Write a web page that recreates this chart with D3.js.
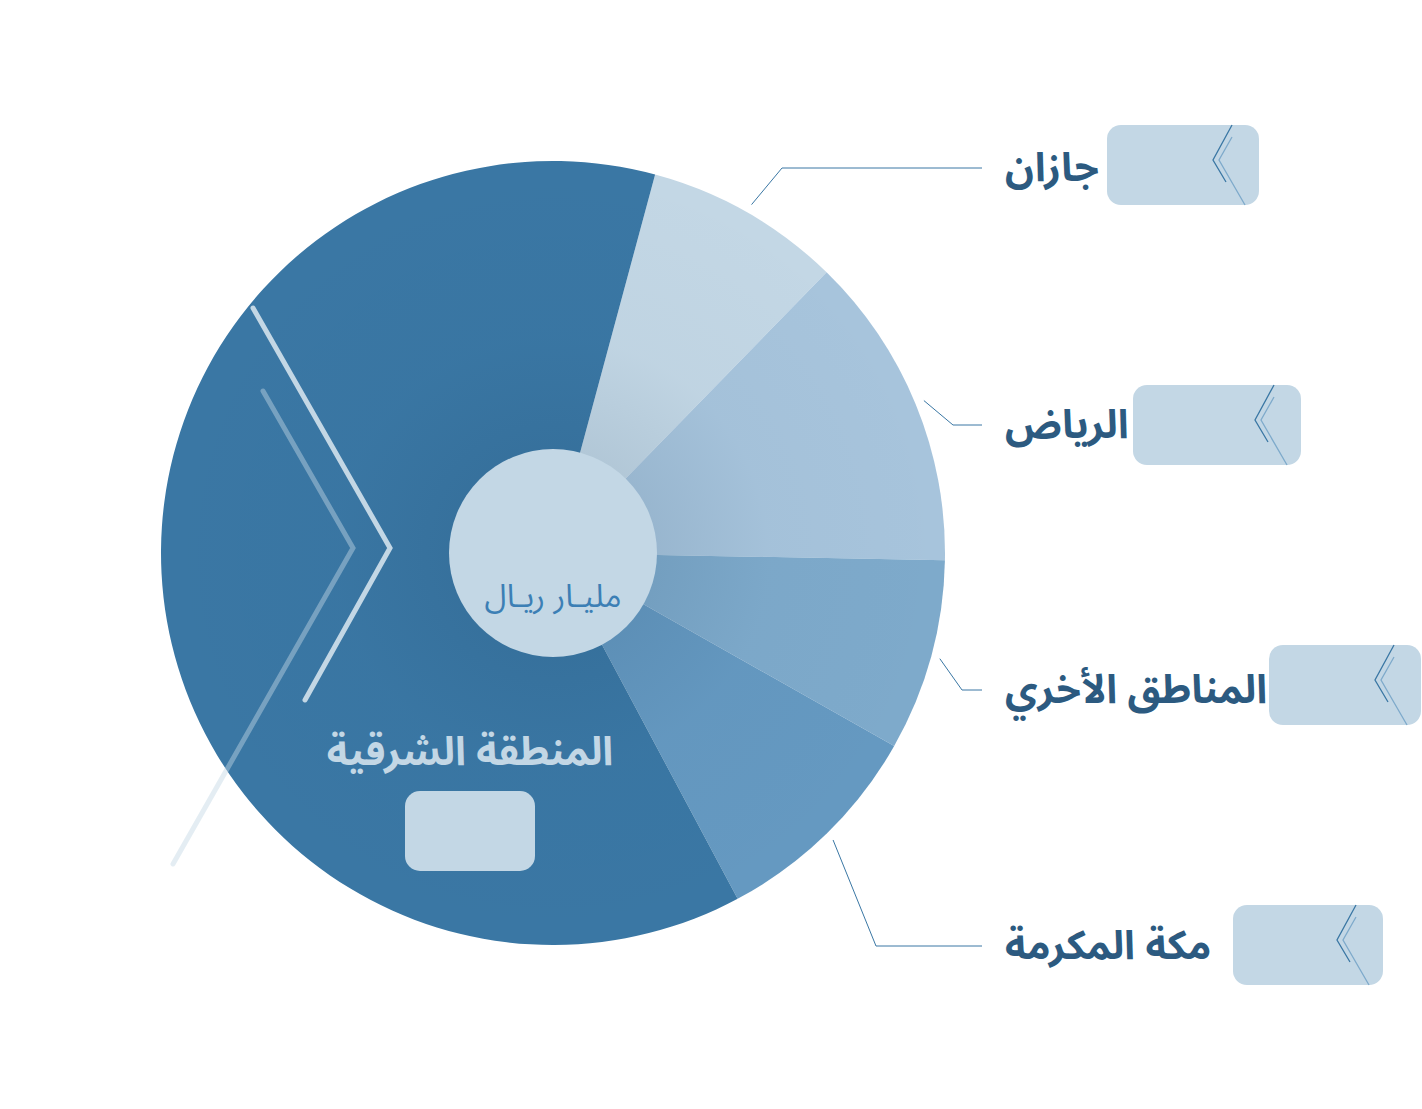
<!DOCTYPE html>
<html lang="ar">
<head>
<meta charset="utf-8">
<script src="https://cdn.jsdelivr.net/npm/d3@7"></script>
<style>
  html, body { margin: 0; padding: 0; background: #ffffff; }
  svg { display: block; }
  text { font-family: "Noto Sans Arabic", "Noto Kufi Arabic", "DejaVu Sans", sans-serif; }
</style>
</head>
<body>
<svg id="chart" width="1422" height="1109"></svg>
<script>
// ---------- data ----------
const categories = ["جازان", "الرياض", "المناطق الأخري", "مكة المكرمة", "المنطقة الشرقية"];
const values     = [8.1, 13, 7.9, 9, 62];           // share of total
const colors     = ["#c3d7e5", "#a7c4dc", "#7eaacb", "#6599c1", "#3a77a4"];
const unitLabel  = "مليـار ريـال";

// ---------- layout ----------
const W = 1422, H = 1109;
const cx = 553, cy = 553, R = 392, rHole = 104;
const startDeg = 15.1;
const labelYs  = [168, 425, 690, 946];   // leader / label rows for the four right-hand labels
const elbowXs  = [782, 953, 962, 876];
const boxXs    = [1107, 1133, 1269, 1233];
const boxYs    = [125, 385, 645, 905];
const boxWs    = [152, 168, 152, 150];
const textX = 1005, lineEndX = 982;

const svg = d3.select("#chart");
svg.append("rect").attr("width", W).attr("height", H).attr("fill", "#ffffff");

const defs = svg.append("defs");
const rg = defs.append("radialGradient").attr("id", "shade")
  .attr("cx", cx).attr("cy", cy).attr("r", R).attr("gradientUnits", "userSpaceOnUse");
rg.append("stop").attr("offset", 0.26).attr("stop-color", "#163a5a").attr("stop-opacity", 0.10);
rg.append("stop").attr("offset", 0.55).attr("stop-color", "#163a5a").attr("stop-opacity", 0.02);
rg.append("stop").attr("offset", 1).attr("stop-color", "#163a5a").attr("stop-opacity", 0);

const data = categories.map((c, i) => ({ name: c, value: values[i], color: colors[i] }));
const rad = d => d * Math.PI / 180;
const pie = d3.pie().value(d => d.value).sort(null)
  .startAngle(rad(startDeg)).endAngle(rad(startDeg) + 2 * Math.PI);
const arcs = pie(data);
const arc = d3.arc().innerRadius(0).outerRadius(R);

const g = svg.append("g").attr("transform", `translate(${cx},${cy})`);
g.selectAll("path.slice").data(arcs).join("path")
  .attr("class", "slice")
  .attr("d", arc)
  .attr("fill", d => d.data.color);

// subtle inner shading
svg.append("circle").attr("cx", cx).attr("cy", cy).attr("r", R).attr("fill", "url(#shade)");

// decorative chevrons on big slice
const chev = d3.line();
svg.append("path")
  .attr("d", chev([[263, 391], [353, 548], [173, 864]]))
  .attr("fill", "none").attr("stroke", "#c3d7e5").attr("stroke-opacity", 0.45)
  .attr("stroke-width", 5).attr("stroke-linecap", "round").attr("stroke-linejoin", "miter");
svg.append("path")
  .attr("d", chev([[253, 308], [390, 548], [305, 700]]))
  .attr("fill", "none").attr("stroke", "#c3d7e5")
  .attr("stroke-width", 5).attr("stroke-linecap", "round").attr("stroke-linejoin", "miter");

// center hole
svg.append("circle").attr("cx", cx).attr("cy", cy).attr("r", rHole).attr("fill", "#c3d7e5");
svg.append("text").attr("x", cx).attr("y", cy + 44)
  .attr("text-anchor", "middle").attr("dominant-baseline", "central")
  .attr("font-size", 32).attr("fill", "#3c7fb5")
  .text(unitLabel);

// big slice label (Eastern Province)
const east = arcs[4];
svg.append("text").attr("x", 470).attr("y", 752)
  .attr("text-anchor", "middle").attr("dominant-baseline", "central")
  .attr("font-size", 40).attr("font-weight", "bold").attr("fill", "#c3d7e5")
  .text(east.data.name);
svg.append("rect").attr("x", 405).attr("y", 791).attr("width", 130).attr("height", 80)
  .attr("rx", 15).attr("fill", "#c3d7e5");

// right-hand labels
arcs.slice(0, 4).forEach((a, i) => {
  const mid = (a.startAngle + a.endAngle) / 2;
  const sx = cx + 401 * Math.sin(mid), sy = cy - 401 * Math.cos(mid);
  const ly = labelYs[i];
  svg.append("path")
    .attr("d", d3.line()([[sx, sy], [elbowXs[i], ly], [lineEndX, ly]]))
    .attr("fill", "none").attr("stroke", "#3a77a4").attr("stroke-width", 1);

  svg.append("text").attr("x", textX).attr("y", ly)
    .attr("text-anchor", "start").attr("dominant-baseline", "central")
    .attr("font-size", 40).attr("font-weight", "bold").attr("fill", "#2c5a80")
    .text(a.data.name);

  const bx = boxXs[i], by = boxYs[i], bw = boxWs[i], bh = 80, Rt = bx + bw;
  svg.append("rect").attr("x", bx).attr("y", by).attr("width", bw).attr("height", bh)
    .attr("rx", 14).attr("fill", "#c3d7e5");
  svg.append("path")
    .attr("d", d3.line()([[Rt - 27, by], [Rt - 46, by + 35], [Rt - 33, by + 57]]))
    .attr("fill", "none").attr("stroke", "#3a77a4").attr("stroke-width", 1.3);
  svg.append("path")
    .attr("d", d3.line()([[Rt - 27, by + 12], [Rt - 40, by + 35], [Rt - 14, by + bh]]))
    .attr("fill", "none").attr("stroke", "#7eaacb").attr("stroke-width", 1.3);
});
</script>
</body>
</html>
